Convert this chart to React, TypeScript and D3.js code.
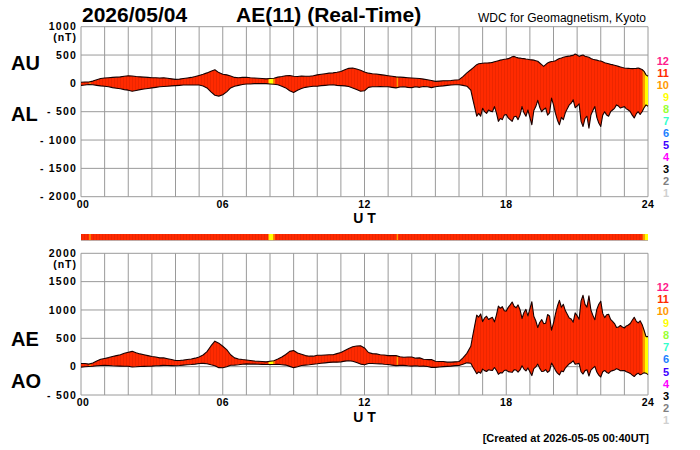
import React from "react";
import * as d3 from "d3";

// Quiet part: 10-minute samples from 00:00 to 16:20 UT
const QUIET_STEP_MIN = 10;
const auQuiet: number[] = [
  20, 25, 25, 40, 65, 85,
  95, 100, 105, 110, 115, 125,
  135, 130, 120, 115, 110, 105,
  100, 100, 95, 100, 90, 80,
  70, 75, 85, 95, 105, 120,
  140, 160, 185, 215, 240, 190,
  160, 150, 130, 105, 100, 105,
  107, 100, 95, 90, 85, 80,
  85, 90, 110, 120, 135, 140,
  125, 120, 130, 125, 125, 135,
  150, 160, 170, 180, 185, 195,
  210, 240, 265, 270, 255, 230,
  200, 180, 170, 165, 155, 145,
  135, 125, 115, 110, 105, 100,
  95, 90, 85, 75, 65, 50,
  35, 40, 45, 45, 50, 60,
  65, 120, 185,
];
const alQuiet: number[] = [
  -35, -30, -20, -25, -35, -45,
  -50, -60, -75, -85, -95, -110,
  -120, -140, -125, -110, -100, -90,
  -80, -70, -60, -55, -50, -45,
  -40, -35, -30, -30, -30, -30,
  -30, -45, -80, -150, -210, -225,
  -200, -150, -80, -50, -35, -20,
  -10, -10, -5, -5, -5, -5,
  -10, -15, -25, -50, -80, -130,
  -160, -120, -90, -70, -60, -50,
  -50, -40, -35, -30, -25, -35,
  -40, -45, -55, -80, -110, -140,
  -130, -70, -60, -60, -55, -60,
  -60, -70, -80, -65, -60, -70,
  -75, -60, -70, -55, -60, -75,
  -60, -50, -45, -35, -30, -25,
  -25, -35, -50,
];

// Disturbed part: 5-minute samples from 16:30 to 24:00 UT
const STORM_START_HOUR = 16.5;
const STORM_STEP_MIN = 5;
const auStorm: number[] = [
  240, 270, 300, 330, 345, 350,
  355, 360, 360, 362, 365, 370, 380, 390, 400, 410, 418, 425,
  430, 436, 450, 470, 476, 460, 450, 445, 440, 436, 430, 425,
  418, 415, 410, 400, 390, 360, 330, 300, 330, 360, 375, 385,
  390, 400, 420, 440, 448, 460, 470, 476, 480, 490, 494, 518,
  500, 476, 490, 500, 480, 470, 460, 440, 425, 418, 410, 400,
  395, 380, 365, 355, 345, 335, 330, 320, 310, 300, 290, 280,
  272, 268, 265, 262, 260, 262, 265, 271, 260, 245, 212, 150,
  125,
];
const alStorm: number[] = [
  -120, -280, -430, -580, -530, -580,
  -440, -500, -530, -470, -490, -500, -410, -520, -670, -620, -640, -560,
  -550, -610, -640, -670, -590, -580, -640, -560, -410, -520, -580, -470,
  -600, -730, -480, -410, -300, -420, -500, -460, -435, -560, -520, -260,
  -380, -530, -650, -730, -600, -640, -520, -450, -380, -350, -290, -430,
  -400, -360, -670, -760, -620, -580, -790, -560, -480, -410, -600, -700,
  -760, -560, -500, -560, -580, -500, -470, -440, -380, -400, -435, -420,
  -410, -450, -470, -500, -560, -610, -540, -500, -550, -500, -430, -380,
  -405,
];

// intervals (UT hours) where the number of contributing stations differs from 11
const segStart = [0.35, 7.92, 7.96, 8.14, 13.36, 23.77, 23.87];
const segEnd = [0.41, 7.96, 8.14, 8.2, 13.42, 23.87, 24];
const segCount = [10, 10, 9, 10, 10, 10, 9];
const defaultCount = 11;

const legendNumbers = [12, 11, 10, 9, 8, 7, 6, 5, 4, 3, 2, 1];
const legendColors = [
  "#ff1a8c", "#ff2a00", "#ff9900", "#ffff00", "#99ff33", "#33ffcc",
  "#1a80ff", "#4000ff", "#ff00ff", "#000000", "#808080", "#d0d0d0",
];

const hourTicks = [0, 6, 12, 18, 24];
const hourTickLabels = ["00", "06", "12", "18", "24"];
const topTicks = [1000, 500, 0, -500, -1000, -1500, -2000];
const bottomTicks = [2000, 1500, 1000, 500, 0, -500];

const FONT = "'Liberation Sans', Arial, Helvetica, sans-serif";

const colorFor = (n: number) => legendColors[legendNumbers.indexOf(n)];
const tickLabel = (v: number) => (v < 0 ? "- " + Math.abs(v) : String(v));

const X0 = 81;
const X1 = 648;
const x = d3.scaleLinear().domain([0, 24]).range([X0, X1]);

const times = [
  ...auQuiet.map((_, i) => (i * QUIET_STEP_MIN) / 60),
  ...auStorm.map((_, k) => STORM_START_HOUR + (k * STORM_STEP_MIN) / 60),
];
const auValues = [...auQuiet, ...auStorm];
const alValues = [...alQuiet, ...alStorm];

type Pt = { t: number; hi: number; lo: number };

function Panel(props: {
  id: string;
  y: d3.ScaleLinear<number, number>;
  ticks: number[];
  hi: number[];
  lo: number[];
}) {
  const { id, y, ticks, hi, lo } = props;
  const data: Pt[] = times.map((t, i) => ({ t, hi: hi[i], lo: lo[i] }));
  const area = d3
    .area<Pt>()
    .x((d) => x(d.t))
    .y0((d) => y(d.lo))
    .y1((d) => y(d.hi));
  const lineHi = d3.line<Pt>().x((d) => x(d.t)).y((d) => y(d.hi));
  const lineLo = d3.line<Pt>().x((d) => x(d.t)).y((d) => y(d.lo));
  const [yb, yt] = y.range();
  const areaD = area(data) || "";
  const hours = d3.range(0, 25);
  return (
    <g>
      <defs>
        {segStart.map((s, i) => (
          <clipPath id={`${id}-clip-${i}`} key={i}>
            <rect x={x(s)} y={yt - 5} width={x(segEnd[i]) - x(s)} height={yb - yt + 10} />
          </clipPath>
        ))}
      </defs>
      {ticks.map((v) => (
        <line key={"h" + v} x1={X0} x2={X1} y1={y(v)} y2={y(v)} stroke="#9a9a9a" strokeWidth={1} />
      ))}
      {hours.map((h) => (
        <line key={"v" + h} x1={x(h)} x2={x(h)} y1={yt} y2={yb} stroke="#9a9a9a" strokeWidth={1} />
      ))}
      <path d={areaD} fill={`url(#stripes)`} />
      {segStart.map((s, i) => (
        <path key={i} d={areaD} fill={colorFor(segCount[i])} clipPath={`url(#${id}-clip-${i})`} />
      ))}
      <path d={lineHi(data) || ""} fill="none" stroke="#1a0000" strokeWidth={1.1} strokeLinejoin="round" />
      <path d={lineLo(data) || ""} fill="none" stroke="#1a0000" strokeWidth={1.1} strokeLinejoin="round" />
      {ticks.map((v) => (
        <text
          key={"t" + v}
          x={77}
          y={y(v)}
          dy="0.36em"
          textAnchor="end"
          fontSize={10.5}
          fontWeight="bold"
          letterSpacing={1.2}
        >
          {tickLabel(v)}
        </text>
      ))}
      <text x={77} y={y(ticks[0]) + 14.5} textAnchor="end" fontSize={10.5} fontWeight="bold" letterSpacing={1}>
        (nT)
      </text>
      {hourTicks.map((h, i) => (
        <text key={"x" + h} x={x(h) + (i === 0 ? 2 : 0)} y={yb + 11} textAnchor="middle" fontSize={10.5} fontWeight="bold" letterSpacing={0.5}>
          {hourTickLabels[i]}
        </text>
      ))}
      <text x={x(12)} y={yb + 26.5} textAnchor="middle" fontSize={14} fontWeight="bold">
        U T
      </text>
      {legendNumbers.map((n, i) => (
        <text key={"l" + n} x={669} y={yt + 38 + i * 12.03} textAnchor="end" fontSize={11} fontWeight="bold" fill={legendColors[i]}>
          {n}
        </text>
      ))}
    </g>
  );
}

export default function App() {
  const yTop = d3.scaleLinear().domain([-2000, 1000]).range([196.7, 26.7]);
  const yBot = d3.scaleLinear().domain([-500, 2000]).range([395, 253.3]);
  const aeValues = auValues.map((u, i) => u - alValues[i]);
  const aoValues = auValues.map((u, i) => (u + alValues[i]) / 2);
  const barY = 234;
  const barH = 6.5;
  return (
    <svg
      width={700}
      height={450}
      viewBox="0 0 700 450"
      style={{ position: "absolute", left: 0, top: 0, background: "#fff" }}
      fontFamily={FONT}
    >
      <defs>
        <pattern id="stripes" patternUnits="userSpaceOnUse" width={3} height={10}>
          <rect width={3} height={10} fill={colorFor(defaultCount)} />
          <rect width={0.8} height={10} fill="#e82400" />
        </pattern>
      </defs>
      <rect width={700} height={450} fill="#fff" />
      <text x={82} y={22} fontSize={21} fontWeight="bold">2026/05/04</text>
      <text x={236} y={22} fontSize={21} fontWeight="bold">AE(11) (Real-Time)</text>
      <text x={646} y={21.5} textAnchor="end" fontSize={12}>WDC for Geomagnetism, Kyoto</text>

      <text x={11} y={70} fontSize={20} fontWeight="bold">AU</text>
      <text x={11} y={121} fontSize={20} fontWeight="bold">AL</text>
      <text x={11} y={346} fontSize={20} fontWeight="bold">AE</text>
      <text x={11} y={388} fontSize={20} fontWeight="bold">AO</text>

      <Panel id="top" y={yTop} ticks={topTicks} hi={auValues} lo={alValues} />

      <rect x={X0} y={barY} width={X1 - X0} height={barH} fill="url(#stripes)" />
      {segStart.map((s, i) => (
        <rect key={i} x={x(s)} y={barY} width={x(segEnd[i]) - x(s)} height={barH} fill={colorFor(segCount[i])} />
      ))}
      <line x1={X0} x2={X1} y1={barY + barH} y2={barY + barH} stroke="#b0b0b0" strokeWidth={0.8} />

      <Panel id="bot" y={yBot} ticks={bottomTicks} hi={aeValues} lo={aoValues} />

      <text x={649} y={442} textAnchor="end" fontSize={11} fontWeight="bold">
        [Created at 2026-05-05 00:40UT]
      </text>
    </svg>
  );
}
